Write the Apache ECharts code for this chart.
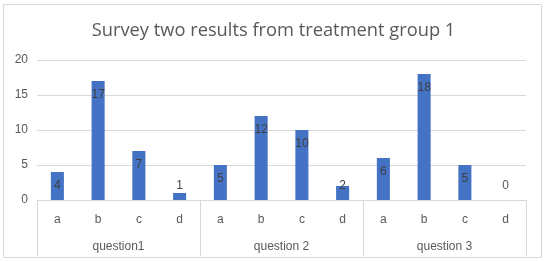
<!DOCTYPE html>
<html>
<head>
<meta charset="utf-8">
<script src="https://cdn.jsdelivr.net/npm/echarts@6/dist/echarts.min.js"></script>
<style>
html, body { margin: 0; padding: 0; background: #fff; }
#chart { width: 547px; height: 261px; }
</style>
</head>
<body>
<div id="chart"></div>
<script>
var title = 'Survey two results from treatment group 1';
var questions = ['question1', 'question 2', 'question 3'];
var options = ['a', 'b', 'c', 'd'];
var question1 = [4, 17, 7, 1];
var question2 = [5, 12, 10, 2];
var question3 = [6, 18, 5, 0];
var yTicks = [0, 5, 10, 15, 20];

var categories = [];
var values = [];
[question1, question2, question3].forEach(function (arr) {
	arr.forEach(function (v, i) {
		categories.push(options[i]);
		values.push(v);
	});
});

var myChart = echarts.init(document.getElementById('chart'));
var font = 'Liberation Sans, Arial, sans-serif';
var option = {
	animation: false,
	textStyle: { fontFamily: font },
	title: {
		text: title,
		left: 'center',
		top: 17,
		textStyle: { fontSize: 18.3, fontWeight: 'normal', color: '#595959', fontFamily: 'Open Sans, sans-serif' }
	},
	graphic: [{
		type: 'rect',
		shape: { x: 3.5, y: 4.5, width: 538, height: 253 },
		style: { fill: 'none', stroke: '#d9d9d9', lineWidth: 1 },
		silent: true
	}],
	grid: { left: 37, right: 21, top: 60, bottom: 61 },
	xAxis: [
		{
			type: 'category',
			data: categories,
			axisLine: { show: true, lineStyle: { color: '#d9d9d9' } },
			axisTick: { show: false },
			axisLabel: { color: '#595959', fontSize: 12, margin: 14 }
		},
		{
			type: 'category',
			data: questions,
			position: 'bottom',
			axisLine: { show: false },
			axisTick: { show: true, length: 56, lineStyle: { color: '#d9d9d9' } },
			axisLabel: { color: '#595959', fontSize: 12, margin: 41 },
			splitLine: { show: false }
		}
	],
	yAxis: {
		type: 'value',
		min: yTicks[0],
		max: yTicks[yTicks.length - 1],
		interval: 5,
		axisLine: { show: false },
		axisTick: { show: false },
		axisLabel: { color: '#595959', fontSize: 12, margin: 9 },
		splitLine: { lineStyle: { color: '#d9d9d9' } }
	},
	series: [{
		type: 'bar',
		xAxisIndex: 0,
		barWidth: '32%',
		itemStyle: { color: '#4472C4' },
		data: values.map(function (v) {
			return {
				value: v,
				label: {
					show: true,
					position: v >= 4 ? 'insideTop' : 'insideBottom',
					distance: 8,
					color: v > 0 ? '#404040' : '#595959',
					fontSize: 12
				}
			};
		})
	}]
};
myChart.setOption(option);
</script>
</body>
</html>
